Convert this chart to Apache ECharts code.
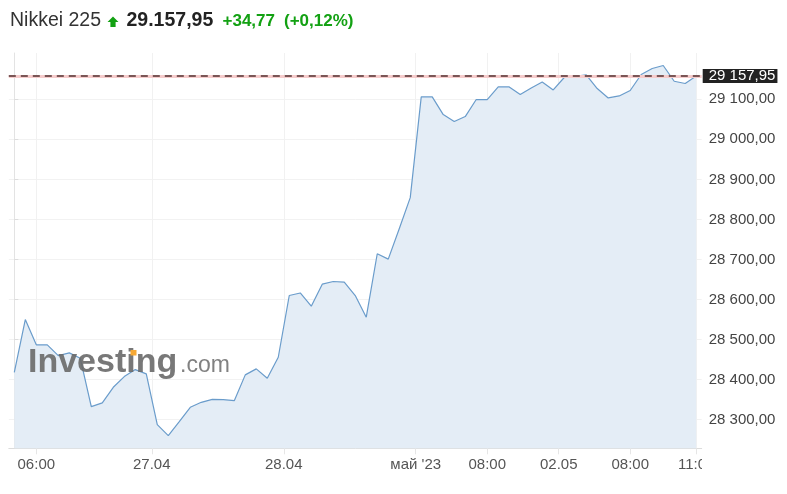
<!DOCTYPE html>
<html><head><meta charset="utf-8">
<script src="https://cdn.jsdelivr.net/npm/echarts@6/dist/echarts.min.js"></script>
<style>html,body{margin:0;padding:0;background:#fff}#c{width:787px;height:494px}</style>
</head><body><div id="c"></div>
<script>
// ---- data ----
const titleName = 'Nikkei 225';
const lastPrice = 29157.95;
const changeText = '+34,77';
const changePctText = '(+0,12%)';
const prices = [
  28418.3, 28550.0, 28486.8, 28486.8, 28460.0, 28466.8, 28453.3, 28332.5, 28341.8, 28380.8,
  28407.5, 28425.0, 28414.3, 28287.5, 28260.0, 28295.0, 28330.8, 28343.3, 28350.8, 28350.0,
  28347.5, 28411.8, 28426.8, 28403.3, 28455.8, 28610.0, 28616.3, 28583.3, 28638.3, 28645.0,
  28643.3, 28610.0, 28555.8, 28714.3, 28700.8, 28776.8, 28854.3, 29105.8, 29105.8, 29061.8,
  29044.3, 29056.8, 29099.3, 29099.3, 29130.8, 29130.8, 29111.8, 29128.3, 29143.3, 29123.3,
  29154.3, 29157.5, 29160.8, 29126.8, 29103.3, 29108.3, 29121.8, 29161.8, 29176.8, 29184.3,
  29145.0, 29139.3, 29157.95
];
const xTickPositions = [2, 12.5, 24.5, 36.5, 43, 49.5, 56, 62];
const xTickLabels = ['06:00', '27.04', '28.04', "май '23", '08:00', '02.05', '08:00', '11:00'];
const yTickValues = [28300, 28400, 28500, 28600, 28700, 28800, 28900, 29000, 29100];

// ---- helpers ----
function fmtAxis(v) {
  const s = v.toFixed(2).split('.');
  return s[0].replace(/\B(?=(\d{3})+(?!\d))/g, ' ') + ',' + s[1];
}
function fmtTitle(v) {
  const s = v.toFixed(2).split('.');
  return s[0].replace(/\B(?=(\d{3})+(?!\d))/g, '.') + ',' + s[1];
}
const FONT = '"Liberation Sans", Arial, Helvetica, sans-serif';
const GREEN = '#13a113';

const chart = echarts.init(document.getElementById('c'), null, {renderer: 'canvas'});
chart.setOption({
  animation: false,
  backgroundColor: '#fff',
  textStyle: {fontFamily: FONT},
  grid: {left: 8.8, right: 85.3, top: 53, bottom: 45.7, containLabel: false},
  xAxis: {
    type: 'value', min: -0.5, max: 62.5,
    axisLine: {show: true, lineStyle: {color: '#dcdcdc', width: 1}},
    axisTick: {show: true, length: 6, customValues: xTickPositions, lineStyle: {color: '#e6e6e6'}},
    axisLabel: {
      customValues: xTickPositions, margin: 9, color: '#555', fontSize: 15, fontFamily: FONT,
      formatter: v => { const i = xTickPositions.indexOf(v); return i >= 0 ? xTickLabels[i] : ''; }
    },
    splitLine: {show: true, lineStyle: {color: '#f1f1f1', width: 1}}
  },
  yAxis: {
    type: 'value', position: 'right', min: 28228.5, max: 29215.5, scale: true,
    axisLine: {show: true, lineStyle: {color: '#e3e3e3'}},
    axisTick: {show: true, length: 4, customValues: yTickValues, lineStyle: {color: '#dddddd'}},
    axisLabel: {customValues: yTickValues, margin: 7, color: '#444', fontSize: 15, fontFamily: FONT, formatter: v => fmtAxis(v)},
    splitLine: {show: true, lineStyle: {color: '#f2f2f2'}}
  },
  series: [{
    type: 'line', silent: true, showSymbol: false, z: 2,
    data: prices.map((v, i) => [i, v]),
    lineStyle: {color: '#6a9ccb', width: 1.2},
    areaStyle: {color: '#e4edf6', opacity: 1},
    markLine: {
      silent: true, symbol: 'none', animation: false,
      data: [
        {yAxis: lastPrice, lineStyle: {color: '#f6cccc', width: 3, type: 'solid'}, label: {show: false}},
        {yAxis: lastPrice, lineStyle: {color: '#7a5656', width: 2, type: [7, 5]},
         label: {show: true, position: 'end', distance: 1, formatter: p => fmtAxis(p.value),
                 color: '#fff', backgroundColor: '#222', fontSize: 15, fontFamily: FONT,
                 lineHeight: 14, padding: [0, 2, 0, 6]}}
      ]
    }
  }],
  graphic: [
    {type: 'text', x: 10, y: 20.5, z: 10, style: {text: titleName, fill: '#333', font: '19.5px ' + FONT, verticalAlign: 'middle'}},
    {type: 'polygon', z: 10, shape: {points: [[113, 16.5], [118.5, 22], [115.6, 22], [115.6, 27], [110.4, 27], [110.4, 22], [107.5, 22]]}, style: {fill: GREEN}},
    {type: 'text', x: 126.5, y: 20.5, z: 10, style: {text: fmtTitle(lastPrice), fill: '#222', font: 'bold 19.5px ' + FONT, verticalAlign: 'middle'}},
    {type: 'text', x: 222.5, y: 21, z: 10, style: {text: changeText, fill: GREEN, font: 'bold 17px ' + FONT, verticalAlign: 'middle'}},
    {type: 'text', x: 284, y: 21, z: 10, style: {text: changePctText, fill: GREEN, font: 'bold 17px ' + FONT, verticalAlign: 'middle'}},
    // watermark
    {type: 'text', x: 28, y: 363, z: 50, style: {text: 'Investing', fill: 'rgba(105,105,105,0.9)', font: 'bold 34px ' + FONT, verticalAlign: 'middle'}},
    {type: 'rect', z: 51, shape: {x: 130.5, y: 350, width: 6, height: 5.5}, style: {fill: '#f7a935'}},
    {type: 'text', x: 180, y: 366, z: 50, style: {text: '.com', fill: 'rgba(115,115,115,0.9)', font: '23px ' + FONT, verticalAlign: 'middle'}},
    // clip of last x label at the price-axis edge
    {type: 'rect', z: 100, shape: {x: 702, y: 452, width: 85, height: 42}, style: {fill: '#fff'}}
  ]
});
</script>
</body></html>
